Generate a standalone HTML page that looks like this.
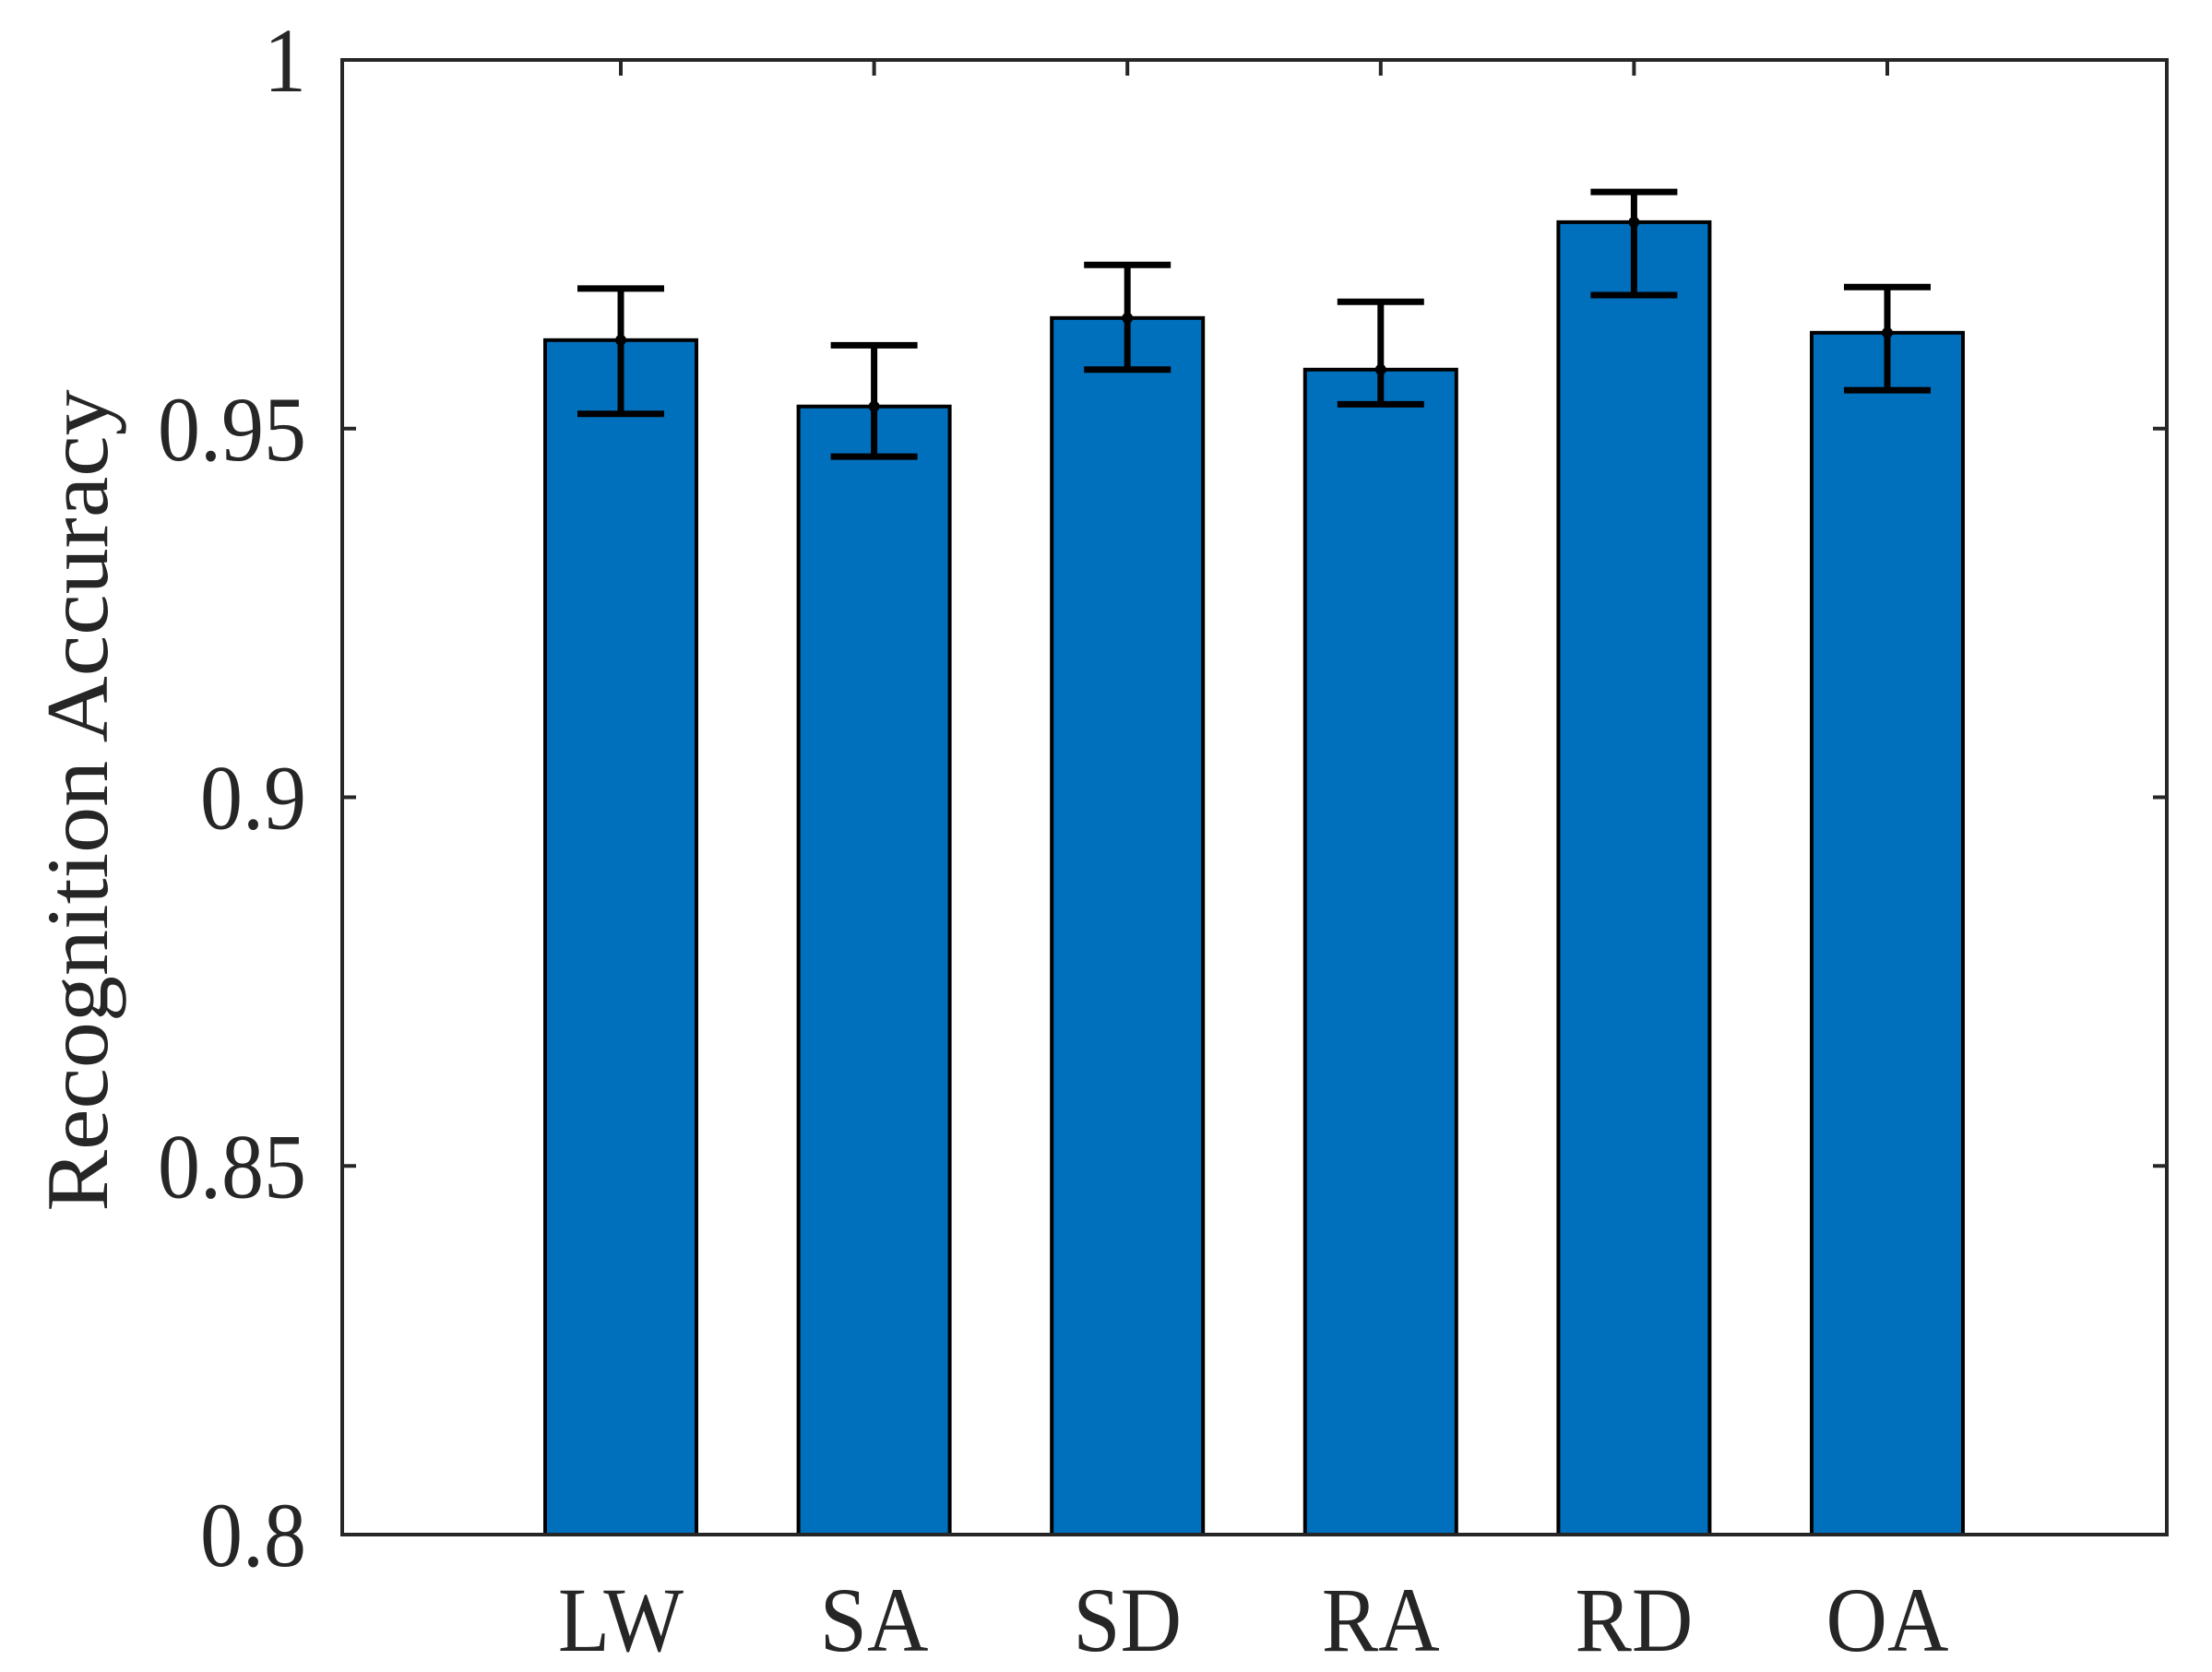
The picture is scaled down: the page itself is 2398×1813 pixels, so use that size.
<!DOCTYPE html>
<html><head><meta charset="utf-8"><style>
html,body{margin:0;padding:0;background:#fff}
svg{display:block}
text{font-family:"Liberation Serif",serif;fill:#262626}
</style></head><body>
<svg id="chart" width="2398" height="1813" viewBox="0 0 2398 1813" xmlns="http://www.w3.org/2000/svg" font-family="Liberation Serif, serif"></svg>
<script>
const categories = ["LW","SA","SD","RA","RD","OA"];
const values = [0.962, 0.953, 0.965, 0.958, 0.978, 0.963];
const errUpper = [0.969, 0.9613, 0.9722, 0.9672, 0.9821, 0.9692];
const errLower = [0.952, 0.9462, 0.958, 0.9533, 0.9681, 0.9552];
const yTicks = [0.8, 0.85, 0.9, 0.95, 1];
const yTickLabels = ["0.8","0.85","0.9","0.95","1"];

const L=371,R=2349,T=65,B=1664, yMin=0.8,yMax=1;
const firstX=673, stepX=274.6, barW=164, capW=94;
const SX=0.92;
function yScale(v){return B-(v-yMin)/(yMax-yMin)*(B-T);}
function xScale(i){return firstX+i*stepX;}
const svg=document.getElementById('chart');
const NS='http://www.w3.org/2000/svg';
function mk(tag,attrs){const e=document.createElementNS(NS,tag);for(const k in attrs)e.setAttribute(k,attrs[k]);svg.appendChild(e);return e;}
function txt(x,y,s,anchor,size){
  const t=mk('text',{x:0,y:0,'text-anchor':anchor,'font-size':size,'font-family':'Liberation Serif, serif',transform:'translate('+x+','+y+') scale('+SX+',1)'});
  t.textContent=s;return t;
}

categories.forEach((c,i)=>{
  const x=xScale(i), y=yScale(values[i]);
  const bar=mk('rect',{x:x-barW/2,y:y,width:barW,height:B-y,fill:'#0070BD',stroke:'#000','stroke-width':4});
  
  
});
categories.forEach((c,i)=>{
  const x=xScale(i), yu=yScale(errUpper[i]), yl=yScale(errLower[i]);
  const g=document.createElementNS(NS,'g');
  
  
  svg.appendChild(g);
  [[x,yu,x,yl],[x-capW/2,yu,x+capW/2,yu],[x-capW/2,yl,x+capW/2,yl]].forEach(p=>{
    const l=document.createElementNS(NS,'line');
    l.setAttribute('x1',p[0]);l.setAttribute('y1',p[1]);l.setAttribute('x2',p[2]);l.setAttribute('y2',p[3]);
    l.setAttribute('stroke','#000');l.setAttribute('stroke-width',7);
    g.appendChild(l);
  });
  const d=document.createElementNS(NS,'circle');
  d.setAttribute('cx',x);d.setAttribute('cy',yScale(values[i]));d.setAttribute('r',6);d.setAttribute('fill','#000');
  g.appendChild(d);
});
const box=mk('rect',{x:L,y:T,width:R-L,height:B-T,fill:'none',stroke:'#262626','stroke-width':4});


yTicks.forEach((v,i)=>{
  const y=yScale(v);
  mk('line',{x1:L,y1:y,x2:L+15,y2:y,stroke:'#262626','stroke-width':4});
  mk('line',{x1:R,y1:y,x2:R-15,y2:y,stroke:'#262626','stroke-width':4});
  const t=txt(332,y+34,yTickLabels[i],'end',100);
  
  
});
categories.forEach((c,i)=>{
  const x=xScale(i);
  mk('line',{x1:x,y1:T,x2:x,y2:T+17,stroke:'#262626','stroke-width':4});
  const t=txt(x,1790,c,'middle',100);
  
  
});
const yl=mk('text',{x:0,y:0,'text-anchor':'middle','font-size':100,'font-family':'Liberation Serif, serif',transform:'translate(116,868) rotate(-90) scale(1,0.95)'});
yl.textContent='Recognition Accuracy';


</script>
</body></html>
